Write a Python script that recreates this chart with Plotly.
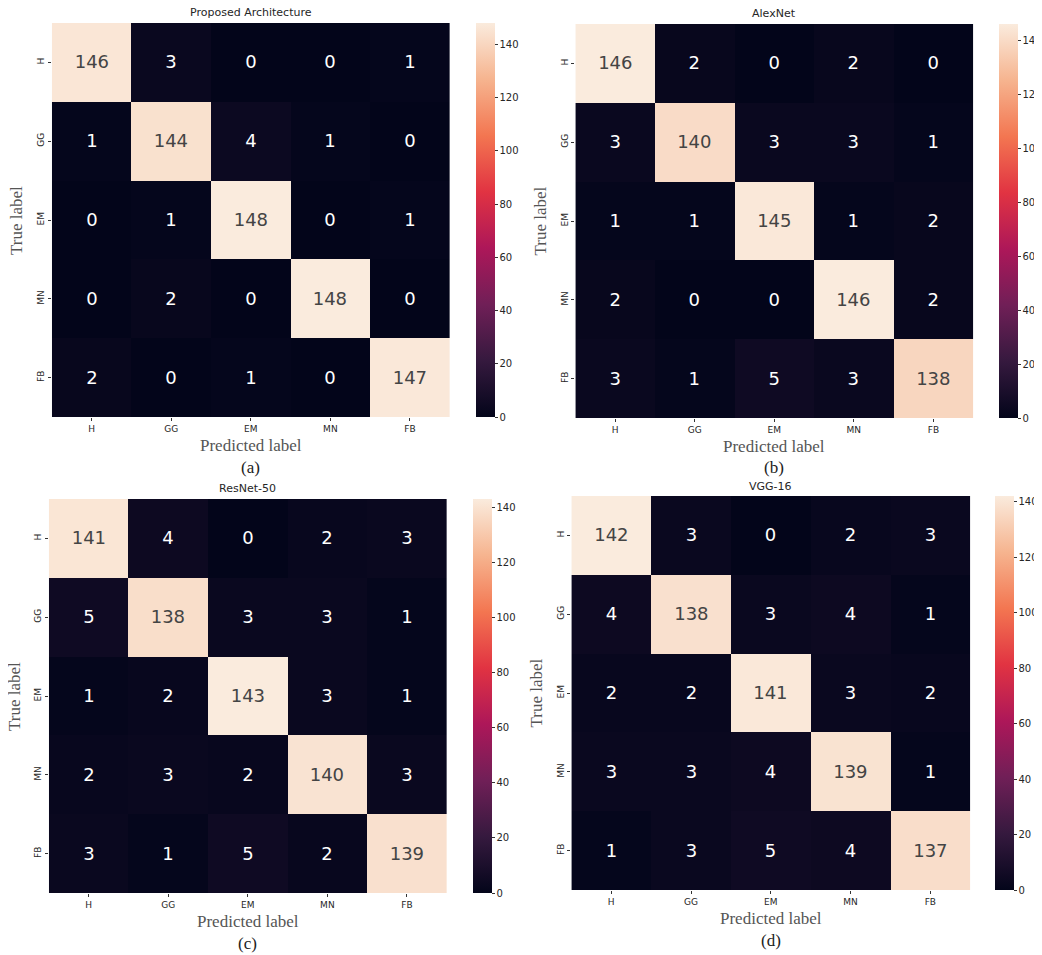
import plotly.graph_objects as go

categories = ["H", "GG", "EM", "MN", "FB"]
titles = ["Proposed Architecture", "AlexNet", "ResNet-50", "VGG-16"]
panel_tags = ["(a)", "(b)", "(c)", "(d)"]

cm_proposed = [[146, 3, 0, 0, 1],
               [1, 144, 4, 1, 0],
               [0, 1, 148, 0, 1],
               [0, 2, 0, 148, 0],
               [2, 0, 1, 0, 147]]
cm_alexnet = [[146, 2, 0, 2, 0],
              [3, 140, 3, 3, 1],
              [1, 1, 145, 1, 2],
              [2, 0, 0, 146, 2],
              [3, 1, 5, 3, 138]]
cm_resnet = [[141, 4, 0, 2, 3],
             [5, 138, 3, 3, 1],
             [1, 2, 143, 3, 1],
             [2, 3, 2, 140, 3],
             [3, 1, 5, 2, 139]]
cm_vgg = [[142, 3, 0, 2, 3],
          [4, 138, 3, 4, 1],
          [2, 2, 141, 3, 2],
          [3, 3, 4, 139, 1],
          [1, 3, 5, 4, 137]]
colorbar_ticks = [0, 20, 40, 60, 80, 100, 120, 140]

matrices = [cm_proposed, cm_alexnet, cm_resnet, cm_vgg]

rocket = [[0.0, "#03051a"], [1/7, "#35193e"], [2/7, "#701f57"], [3/7, "#ad1759"],
          [4/7, "#e13342"], [5/7, "#f37651"], [6/7, "#f6b48f"], [1.0, "#faebdd"]]

OFF = 8  # page body margin
W, H = 1042 - OFF, 955 - OFF
# pixel boxes in the screenshot: (left, right, top, bottom, cb_left, cb_right)
boxes = [(52, 451, 23, 417, 477, 496),
         (577, 976, 24, 418, 1002, 1021),
         (49, 448, 499, 893, 474, 493),
         (573, 973, 496, 890, 998, 1017)]


def px(v):
    return (v - OFF) / W


def py(v):
    return 1 - (v - OFF) / H


fig = go.Figure()
annotations = []
layout_axes = {}
for i, (cm, box) in enumerate(zip(matrices, boxes)):
    l, r, t, b, cl, cr = box
    xa = "x" if i == 0 else f"x{i+1}"
    ya = "y" if i == 0 else f"y{i+1}"
    zmax = max(max(row) for row in cm)
    zmin = min(min(row) for row in cm)
    fig.add_trace(go.Heatmap(
        z=cm, x=categories, y=categories, xaxis=xa, yaxis=ya,
        colorscale=rocket, zmin=zmin, zmax=zmax,
        texttemplate="%{z}", textfont=dict(family="DejaVu Sans", size=18),
        hoverinfo="skip",
        colorbar=dict(x=px(cl), xanchor="left", y=py(b), yanchor="bottom",
                      len=(b - t) / H, lenmode="fraction", thickness=cr - cl,
                      thicknessmode="pixels", outlinewidth=0, tickvals=colorbar_ticks,
                      ticks="outside", ticklen=3, tickcolor="#333",
                      tickfont=dict(family="DejaVu Sans", size=10, color="#262626"),
                      xpad=0, ypad=0),
    ))
    xkey = "xaxis" if i == 0 else f"xaxis{i+1}"
    ykey = "yaxis" if i == 0 else f"yaxis{i+1}"
    layout_axes[xkey] = dict(domain=[px(l), px(r)], anchor=ya, showgrid=False, zeroline=False,
                             ticks="outside", ticklen=3, tickcolor="#333",
                             tickfont=dict(family="DejaVu Sans", size=9, color="#262626"),
                             showline=False, fixedrange=True)
    layout_axes[ykey] = dict(domain=[py(b), py(t)], anchor=xa, showgrid=False, zeroline=False,
                             autorange="reversed", ticks="outside", ticklen=3, tickcolor="#333",
                             tickangle=-90,
                             tickfont=dict(family="DejaVu Sans", size=9, color="#262626"),
                             showline=False, fixedrange=True)
    cx = (l + r) / 2
    annotations.append(dict(text=titles[i], x=px(cx), y=py(t - 10), xref="paper", yref="paper",
                            xanchor="center", yanchor="middle", showarrow=False,
                            font=dict(family="DejaVu Sans", size=11, color="#262626")))
    annotations.append(dict(text="Predicted label", x=px(cx), y=py(b + 28), xref="paper",
                            yref="paper", xanchor="center", yanchor="middle", showarrow=False,
                            font=dict(family="Liberation Serif", size=17, color="#555555")))
    annotations.append(dict(text=panel_tags[i], x=px(cx), y=py(b + 50), xref="paper",
                            yref="paper", xanchor="center", yanchor="middle", showarrow=False,
                            font=dict(family="Liberation Serif", size=17, color="#222222")))
    annotations.append(dict(text="True label", x=px(l - 35), y=py((t + b) / 2), xref="paper",
                            yref="paper", xanchor="center", yanchor="middle", showarrow=False,
                            textangle=-90,
                            font=dict(family="Liberation Serif", size=17, color="#555555")))

fig.update_layout(width=W, height=H, margin=dict(l=0, r=0, t=0, b=0),
                  paper_bgcolor="white", plot_bgcolor="white",
                  annotations=annotations, **layout_axes)
fig.write_html("out.html")
